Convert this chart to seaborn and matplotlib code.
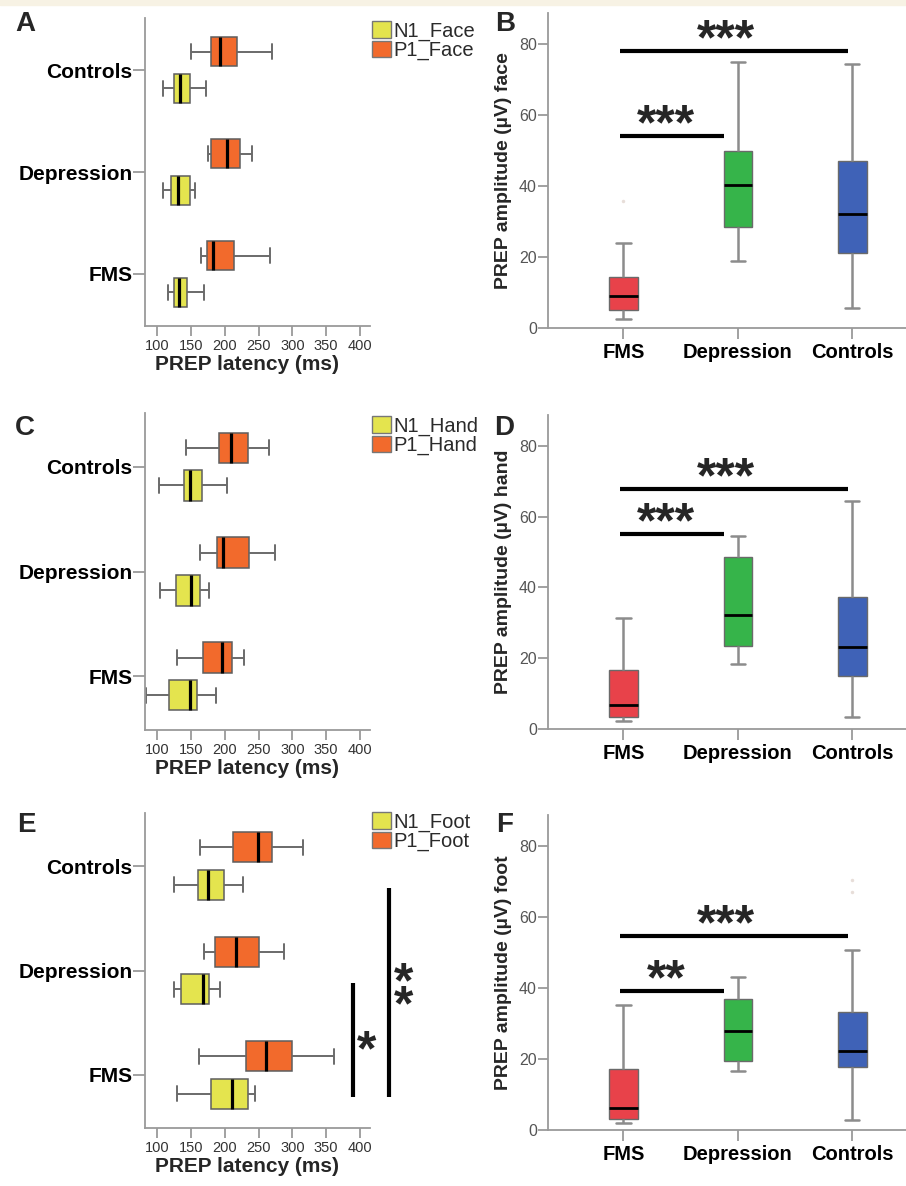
import matplotlib
matplotlib.use("Agg")

import pandas as pd
import matplotlib.pyplot as plt
import matplotlib.patches as mpatches
import seaborn as sns

sns.set_theme(style="white")
plt.rcParams['font.family'] = ['Liberation Sans', 'DejaVu Sans']

W, H = 906, 1186

GROUPS_LAT = ["Controls", "Depression", "FMS"]
GROUPS_AMP = ["FMS", "Depression", "Controls"]

# latency five-number summaries: min, q1, median, q3, max (ms)
face_n1 = {"Controls": [108, 125, 134, 148, 173],
           "Depression": [108, 121, 131, 149, 156],
           "FMS": [116, 125, 133, 144, 170]}
face_p1 = {"Controls": [150, 180, 193, 218, 270],
           "Depression": [175, 179, 203, 222, 241],
           "FMS": [165, 174, 183, 213, 267]}
hand_n1 = {"Controls": [102, 139, 148, 166, 204],
           "Depression": [104, 128, 150, 164, 176],
           "FMS": [84, 117, 148, 159, 187]}
hand_p1 = {"Controls": [143, 192, 209, 234, 265],
           "Depression": [164, 188, 197, 236, 275],
           "FMS": [130, 168, 196, 211, 229]}
foot_n1 = {"Controls": [125, 160, 175, 199, 227],
           "Depression": [125, 135, 168, 177, 193],
           "FMS": [130, 180, 211, 234, 245]}
foot_p1 = {"Controls": [163, 212, 249, 270, 316],
           "Depression": [170, 185, 217, 251, 287],
           "FMS": [162, 232, 261, 300, 362]}

# amplitude five-number summaries (uV)
face_amp = {"FMS": [2.6, 5.0, 8.9, 14.4, 23.8],
            "Depression": [18.9, 28.3, 40.4, 49.8, 74.8],
            "Controls": [5.5, 21.0, 32.0, 47.0, 74.2]}
hand_amp = {"FMS": [2.4, 3.4, 6.9, 16.8, 31.3],
            "Depression": [18.4, 23.5, 32.3, 48.5, 54.6],
            "Controls": [3.4, 15.0, 23.3, 37.3, 64.3]}
foot_amp = {"FMS": [1.9, 3.1, 6.2, 17.1, 35.2],
            "Depression": [16.7, 19.4, 27.9, 36.8, 43.0],
            "Controls": [2.8, 17.6, 22.3, 33.1, 50.7]}

# faint outlier points
face_out = {"FMS": [35.7]}
hand_out = {}
foot_out = {"Controls": [70.4, 67.1]}

# significance: (group a, group b, bar height, label)
face_sig = [("FMS", "Depression", 54.0, "***"), ("FMS", "Controls", 78.1, "***")]
hand_sig = [("FMS", "Depression", 55.1, "***"), ("FMS", "Controls", 67.9, "***")]
foot_sig = [("FMS", "Depression", 39.2, "**"), ("FMS", "Controls", 54.7, "***")]

# foot latency significance (vertical bars): (x ms, from cat, to cat, label)
foot_lat_sig = [(389.5, 1.12, 2.21, "*"), (442.7, 0.21, 2.21, "*\n*")]

N1_COLOR = "#e4e44e"
P1_COLOR = "#f26a2c"
AMP_COLORS = {"FMS": "#e8424a", "Depression": "#36b44a", "Controls": "#3f62b7"}
SPINE = "#9a9a9a"
STAR_SIZE = 36


def px_axes(fig, left, top, right, bottom):
    return fig.add_axes([left / W, 1 - bottom / H, (right - left) / W, (bottom - top) / H])


def style_spines(ax):
    for side in ["top", "right"]:
        ax.spines[side].set_visible(False)
    for side in ["left", "bottom"]:
        ax.spines[side].set_color(SPINE)
        ax.spines[side].set_linewidth(1.3)


def latency_panel(fig, ax, n1, p1, site, legend_top):
    rows = []
    for wave, d in (("P1", p1), ("N1", n1)):
        for g, vals in d.items():
            for v in vals:
                rows.append((g, wave, v))
    df = pd.DataFrame(rows, columns=["group", "wave", "latency"])

    sns.boxplot(data=df, x="latency", y="group", hue="wave", order=GROUPS_LAT,
                hue_order=["P1", "N1"], palette={"P1": P1_COLOR, "N1": N1_COLOR},
                orient="h", width=0.72, gap=0.2, whis=(0, 100), saturation=1,
                linecolor="#5e5e5e", linewidth=1.1, legend=False, ax=ax,
                medianprops=dict(color="black", linewidth=2.3),
                whiskerprops=dict(color="#6a6a6a", linewidth=1.4),
                capprops=dict(color="#6a6a6a", linewidth=1.4))
    ax.set_xlim(82, 415)
    ax.set_ylim(2.51, -0.51)
    ax.set_xticks(range(100, 401, 50))
    ax.set_ylabel("")
    ax.set_xlabel("PREP latency (ms)", fontsize=15, fontweight="bold", labelpad=2)
    ax.xaxis.label.set_x(0.455)
    style_spines(ax)
    ax.tick_params(axis="x", direction="out", length=7.5, width=1.3, color=SPINE,
                   labelsize=10.5, labelcolor="#333333", pad=1.5, bottom=True)
    ax.tick_params(axis="y", direction="out", length=9, width=1.3, color=SPINE,
                   labelsize=15, labelcolor="black", pad=0, left=True)
    for lab in ax.get_yticklabels():
        lab.set_fontweight("bold")

    handles = [mpatches.Patch(facecolor=N1_COLOR, edgecolor="#777777", label=f"N1_{site}"),
               mpatches.Patch(facecolor=P1_COLOR, edgecolor="#777777", label=f"P1_{site}")]
    fig.legend(handles=handles, loc="upper left",
               bbox_to_anchor=(372 / W, 1 - legend_top / H), frameon=False,
               fontsize=14.5, handlelength=0.95, handleheight=0.9, handletextpad=0.1,
               labelspacing=0.0, borderpad=0, borderaxespad=0, labelcolor="#2a2a2a")


def amplitude_panel(ax, amp, outliers, sig, site):
    df = pd.DataFrame([(g, v) for g, vals in amp.items() for v in vals],
                      columns=["group", "amp"])
    sns.boxplot(data=df, x="group", y="amp", hue="group", order=GROUPS_AMP,
                hue_order=GROUPS_AMP, palette=AMP_COLORS, width=0.25,
                whis=(0, 100), saturation=1, linecolor="#6a6a6a", linewidth=1.0,
                legend=False, ax=ax,
                medianprops=dict(color="black", linewidth=2.0),
                whiskerprops=dict(color="#8c8c8c", linewidth=1.8),
                capprops=dict(color="#8c8c8c", linewidth=1.8))
    if outliers:
        odf = pd.DataFrame([(g, v) for g, vals in outliers.items() for v in vals],
                           columns=["group", "amp"])
        sns.stripplot(data=odf, x="group", y="amp", order=GROUPS_AMP, jitter=False,
                      color="#d8c8c0", size=2.5, alpha=0.6, ax=ax)

    geom = [(-0.03, -0.12, 0.375), (-0.03, -0.04, 0.9)]
    for (a, b, y, stars), (d0, d1, tx) in zip(sig, geom):
        x0 = GROUPS_AMP.index(a) + d0
        x1 = GROUPS_AMP.index(b) + d1
        ax.plot([x0, x1], [y, y], color="black", linewidth=3.0, solid_capstyle="butt")
        ax.annotate(stars, xy=(tx, y), xytext=(0, -2.5), textcoords="offset points",
                    ha="center", va="baseline", fontsize=STAR_SIZE, fontweight="bold")

    ax.set_xlim(-0.66, 2.47)
    ax.set_ylim(0, 88.7)
    ax.set_yticks([0, 20, 40, 60, 80])
    ax.set_xlabel("")
    ax.set_ylabel(f"PREP amplitude (\u00b5V) {site}", fontsize=14, fontweight="bold",
                  labelpad=5)
    style_spines(ax)
    ax.tick_params(axis="y", direction="out", length=7, width=1.3, color=SPINE,
                   labelsize=11.5, labelcolor="#555555", pad=1, left=True)
    ax.tick_params(axis="x", direction="out", length=8, width=1.3, color=SPINE,
                   labelsize=14.5, labelcolor="black", pad=3, bottom=True)
    for lab in ax.get_xticklabels():
        lab.set_fontweight("bold")


fig = plt.figure(figsize=(W / 100, H / 100), dpi=100)
fig.patches.append(mpatches.Rectangle((0, 1 - 5 / H), 1, 5 / H, transform=fig.transFigure,
                                      color="#f7f2e4", zorder=0))

ax_a = px_axes(fig, 145, 18, 370, 326)
ax_b = px_axes(fig, 548, 13, 906, 328)
ax_c = px_axes(fig, 145, 413, 370, 730)
ax_d = px_axes(fig, 548, 415, 906, 729)
ax_e = px_axes(fig, 145, 813, 370, 1128)
ax_f = px_axes(fig, 548, 815, 906, 1130)

latency_panel(fig, ax_a, face_n1, face_p1, "Face", 21)
latency_panel(fig, ax_c, hand_n1, hand_p1, "Hand", 416)
latency_panel(fig, ax_e, foot_n1, foot_p1, "Foot", 812)

amplitude_panel(ax_b, face_amp, face_out, face_sig, "face")
amplitude_panel(ax_d, hand_amp, hand_out, hand_sig, "hand")
amplitude_panel(ax_f, foot_amp, foot_out, foot_sig, "foot")

# vertical significance bars beside the foot latency panel
for x, y0, y1, stars in foot_lat_sig:
    ax_e.plot([x, x], [y0, y1], color="black", linewidth=3.0,
              solid_capstyle="butt", clip_on=False)
ax_e.text(410, 1.78, foot_lat_sig[0][3], ha="center", va="center", fontsize=STAR_SIZE,
          fontweight="bold", clip_on=False)
ax_e.text(464, 1.24, foot_lat_sig[1][3], ha="center", va="center", fontsize=STAR_SIZE,
          fontweight="bold", linespacing=0.36, clip_on=False)

for letter, x, y in [("A", 15, 31), ("B", 495, 31), ("C", 15, 435),
                     ("D", 494, 435), ("E", 17, 832), ("F", 496, 832)]:
    fig.text(x / W, 1 - y / H, letter, fontsize=20, fontweight="bold",
             ha="left", va="baseline")

fig.savefig("out.png", dpi=100)
